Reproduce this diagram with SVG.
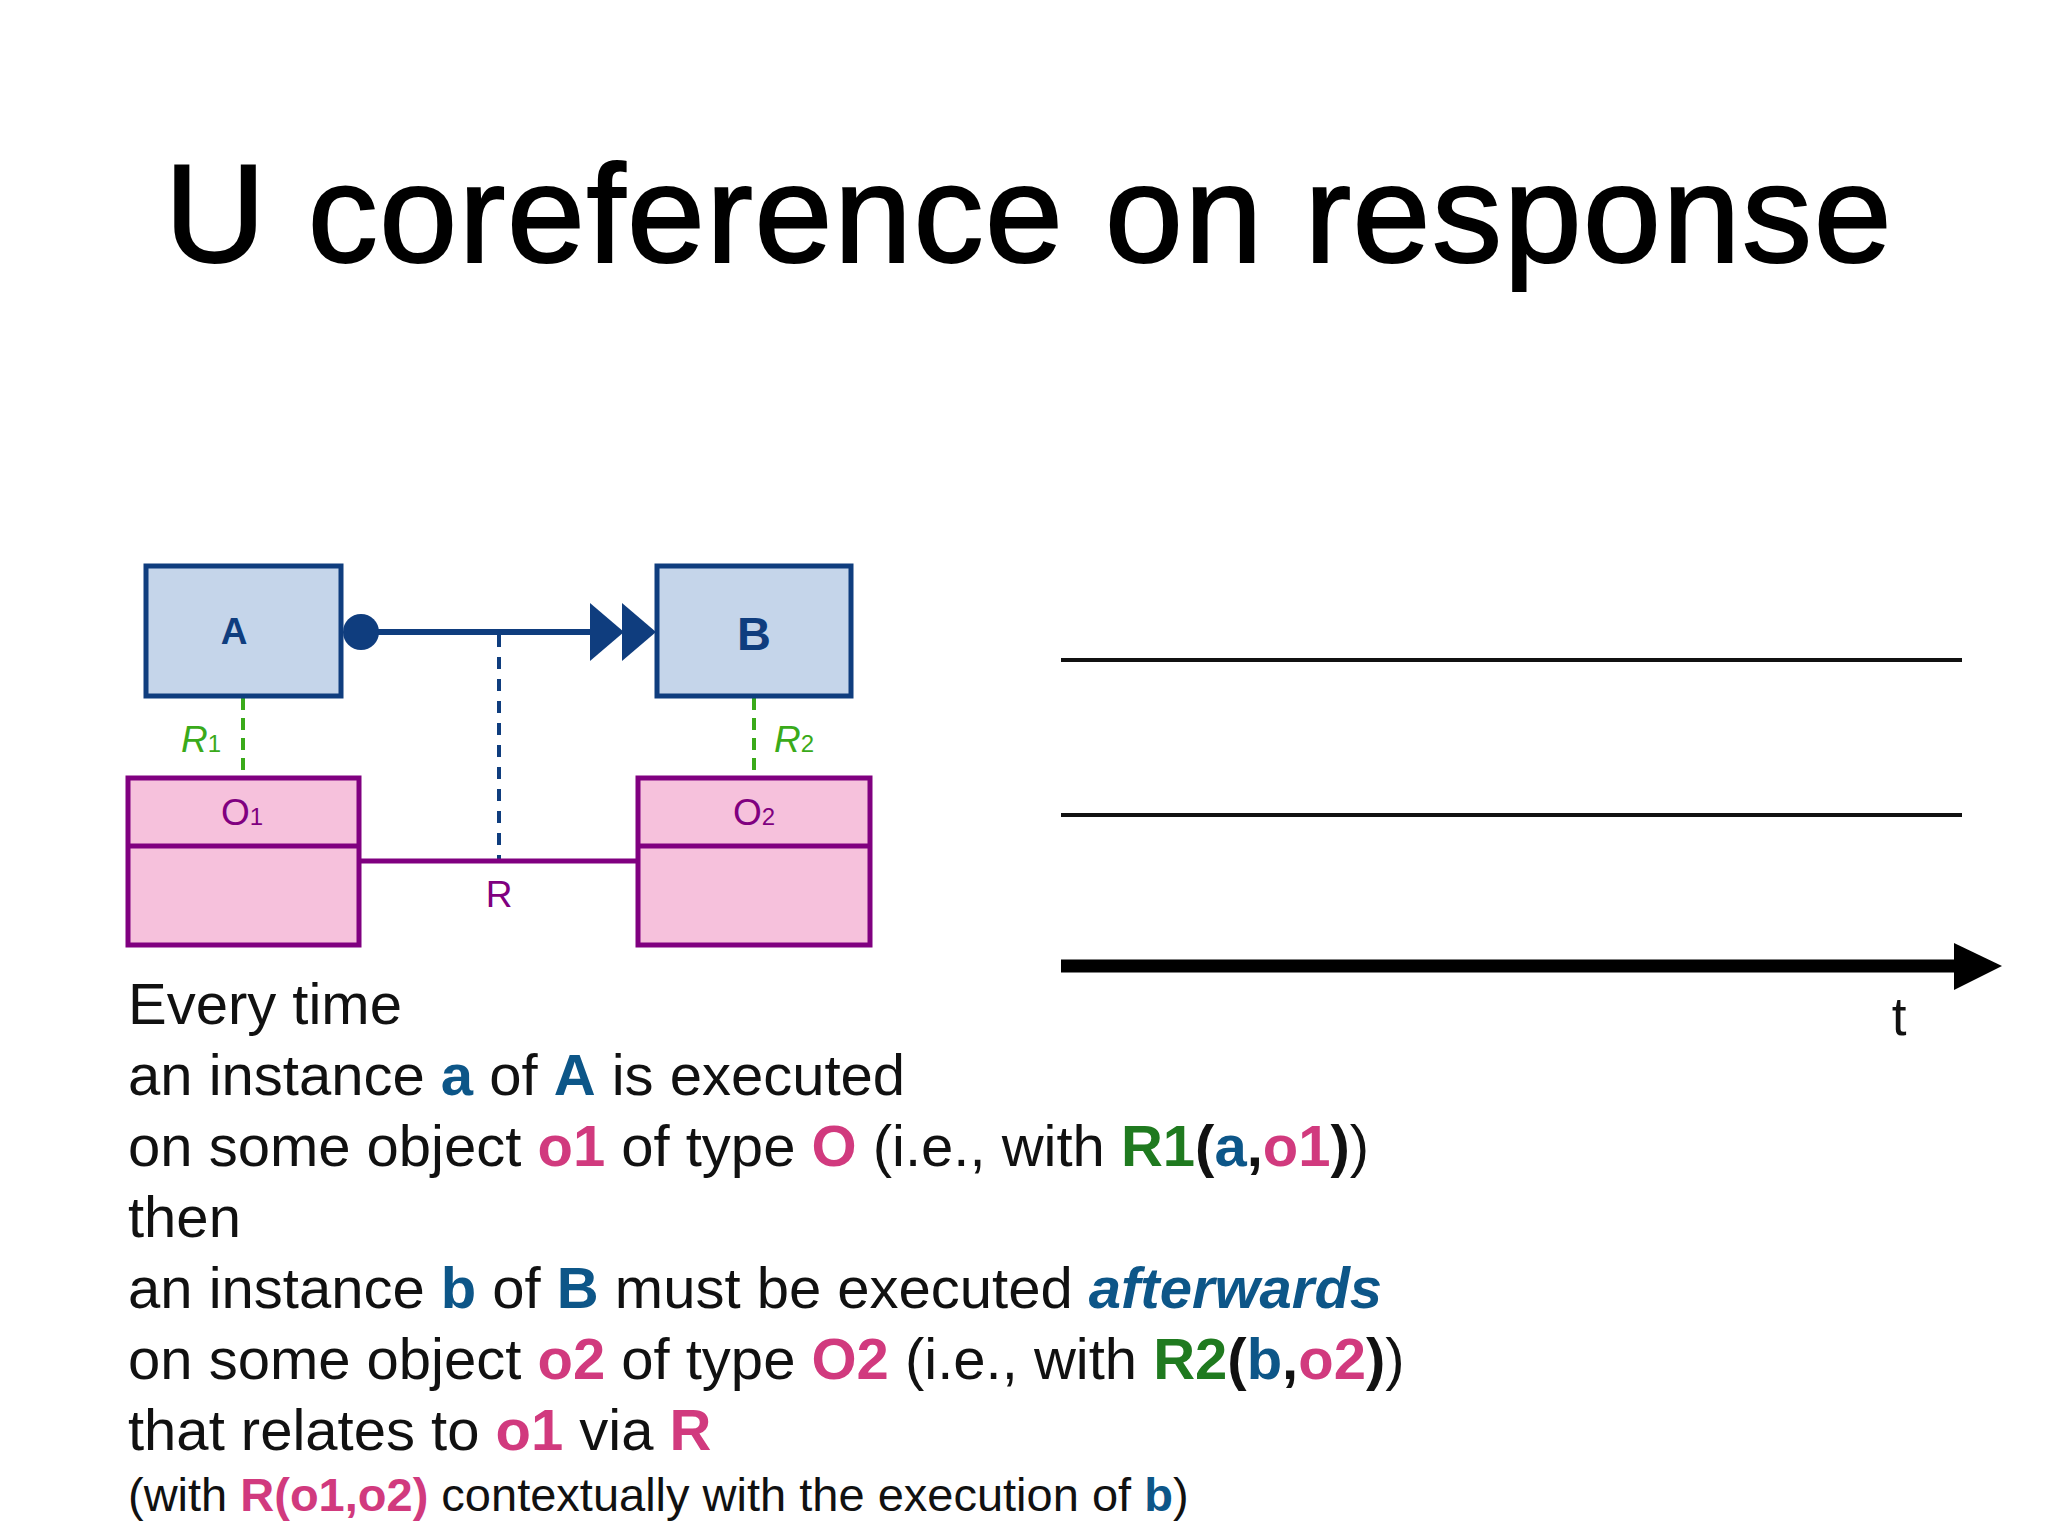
<svg xmlns="http://www.w3.org/2000/svg" width="2048" height="1536" viewBox="0 0 2048 1536">
<style>
text{font-family:"Liberation Sans",Arial,sans-serif}
.act{fill:#c5d5ea;stroke:#0f3d7e;stroke-width:5}
.obj{fill:#f6c1dc;stroke:#800080;stroke-width:5}
.body{font-size:58px;fill:#111}
.b{fill:#0d5688;font-weight:bold}
.p{fill:#d13a7e;font-weight:bold}
.g{fill:#1f7a1f;font-weight:bold}
.k{font-weight:bold}
</style>
<rect width="2048" height="1536" fill="#fff"/>
<g transform="translate(-4,-5)">
<text x="1032" y="267" font-size="140" text-anchor="middle" textLength="1727" fill="#000" stroke="#000" stroke-width="2">U coreference on response</text>
<g id="connectors">
<line x1="365" y1="637" x2="596" y2="637" stroke="#0f3d7e" stroke-width="6"/>
<circle cx="365" cy="637" r="18" fill="#0f3d7e"/>
<polygon points="594,608 628,637 594,666" fill="#0f3d7e"/>
<polygon points="626,608 660,637 626,666" fill="#0f3d7e"/>
<line x1="503" y1="640" x2="503" y2="866" stroke="#0f3d7e" stroke-width="4" stroke-dasharray="12,10"/>
<line x1="363" y1="866" x2="642" y2="866" stroke="#800080" stroke-width="5"/>
<text x="503" y="912" font-size="37" fill="#800080" text-anchor="middle">R</text>
<line x1="247" y1="703" x2="247" y2="781" stroke="#3aaa1a" stroke-width="4" stroke-dasharray="12,8"/>
<text x="185" y="757" font-size="37" fill="#3aaa1a" font-style="italic">R<tspan font-size="24" font-style="normal">1</tspan></text>
<line x1="758" y1="703" x2="758" y2="781" stroke="#3aaa1a" stroke-width="4" stroke-dasharray="12,8"/>
<text x="778" y="757" font-size="37" fill="#3aaa1a" font-style="italic">R<tspan font-size="24" font-style="normal">2</tspan></text>
</g>
<g id="A"><rect class="act" x="150" y="571" width="195" height="130"/><text x="238" y="649" font-size="37" font-weight="bold" fill="#0f3d7e" text-anchor="middle">A</text></g>
<g id="B"><rect class="act" x="661" y="571" width="194" height="130"/><text x="758" y="655" font-size="47" font-weight="bold" fill="#0f3d7e" text-anchor="middle">B</text></g>
<g id="O1"><rect class="obj" x="132" y="783" width="231" height="167"/><line x1="132" y1="851" x2="363" y2="851" stroke="#800080" stroke-width="5"/><text x="246" y="830" font-size="37" fill="#800080" text-anchor="middle">O<tspan font-size="24">1</tspan></text></g>
<g id="O2"><rect class="obj" x="642" y="783" width="232" height="167"/><line x1="642" y1="851" x2="874" y2="851" stroke="#800080" stroke-width="5"/><text x="758" y="830" font-size="37" fill="#800080" text-anchor="middle">O<tspan font-size="24">2</tspan></text></g>
<g id="timeline">
<line x1="1065" y1="665" x2="1966" y2="665" stroke="#111" stroke-width="4"/>
<line x1="1065" y1="820" x2="1966" y2="820" stroke="#111" stroke-width="4"/>
<line x1="1065" y1="971" x2="1962" y2="971" stroke="#000" stroke-width="13"/>
<polygon points="1958,948 2006,971 1958,995" fill="#000"/>
<text x="1903" y="1040" font-size="53" text-anchor="middle" fill="#111">t</text>
</g>
<g id="text">
<text class="body" x="132" y="1029">Every time</text>
<text class="body" x="132" y="1100">an instance <tspan class="b">a</tspan> of <tspan class="b">A</tspan> is executed</text>
<text class="body" x="132" y="1171">on some object <tspan class="p">o1</tspan> of type <tspan class="p">O</tspan> (i.e., with <tspan class="g">R1</tspan><tspan class="k">(</tspan><tspan class="b">a</tspan><tspan class="k">,</tspan><tspan class="p">o1</tspan><tspan class="k">)</tspan>)</text>
<text class="body" x="132" y="1242">then</text>
<text class="body" x="132" y="1313">an instance <tspan class="b">b</tspan> of <tspan class="b">B</tspan> must be executed <tspan class="b" font-style="italic">afterwards</tspan></text>
<text class="body" x="132" y="1384">on some object <tspan class="p">o2</tspan> of type <tspan class="p">O2</tspan> (i.e., with <tspan class="g">R2</tspan><tspan class="k">(</tspan><tspan class="b">b</tspan><tspan class="k">,</tspan><tspan class="p">o2</tspan><tspan class="k">)</tspan>)</text>
<text class="body" x="132" y="1455">that relates to <tspan class="p">o1</tspan> via <tspan class="p">R</tspan></text>
<text x="132" y="1516" font-size="47" fill="#111">(with <tspan class="p">R(o1,o2)</tspan> contextually with the execution of <tspan class="b">b</tspan>)</text>
</g>
</g>
</svg>
